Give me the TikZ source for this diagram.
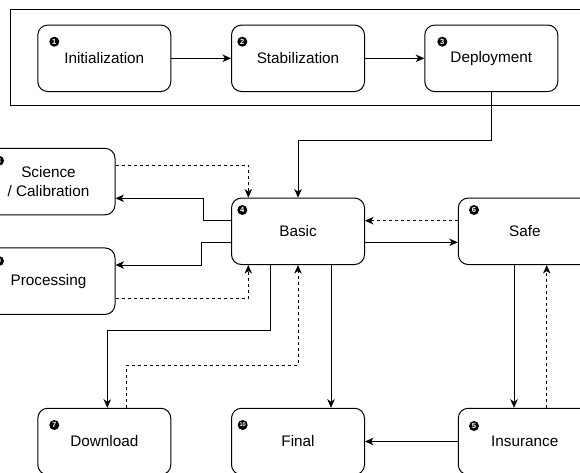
\documentclass[tikz,border=0pt]{standalone}
\usepackage{fontspec}
\setmainfont{Liberation Sans}
\usetikzlibrary{arrows.meta}
\begin{document}
\begin{tikzpicture}[x=1pt,y=-1pt,
  box/.style={draw=black, line width=1pt, rounded corners=10pt, minimum width=133pt, minimum height=66.5pt, inner sep=0pt, align=center, font=\fontsize{15.3}{19}\selectfont, fill=white},
  num/.style={circle, fill=black, inner sep=0pt, minimum size=10pt, text=white, font=\fontsize{7.5}{7.5}\selectfont\bfseries},
  numsmall/.style={num, font=\fontsize{5.5}{5.5}\selectfont\bfseries},
  arr/.style={draw=black, line width=1pt, -{Stealth[length=8.5pt,width=7.5pt,inset=2.5pt]}},
  darr/.style={arr, dash pattern=on 3pt off 3pt},
  frame/.style={draw=black, line width=1pt}]
\useasboundingbox (0,0) rectangle (580,472);
\clip (0,0) rectangle (580,472);

% group frame
\draw[frame] (10.7,9.3) rectangle (640,105);

% boxes
\node[box] (init) at (104.3,58.3) {Initialization};
\node[box] (stab) at (298,58.3) {Stabilization};
\node[box] (deploy) at (491.3,58.3) {Deployment};
\node[box] (basic) at (298,231.3) {Basic};
\node[box] (safe) at (524.8,231.3) {Safe};
\node[box] (science) at (48.5,181.6) {Science\\/ Calibration};
\node[box] (proc) at (48.5,281.2) {Processing};
\node[box] (down) at (104.3,441.5) {Download};
\node[box] (final) at (298,441.5) {Final};
\node[box] (insur) at (524.8,441.5) {Insurance};

% number badges
\node[num] (c1) at (54.3,41.7) {1};
\node[num] (c2) at (242.3,41.7) {2};
\node[num] (c3) at (442.3,41.7) {3};
\node[num] (c4) at (242.3,210) {4};
\node[num] (c6) at (474,210) {6};
\node[num] (c5) at (474,426) {5};
\node[num] (c7) at (54.3,425) {7};
\node[numsmall] (c10) at (242.7,425) {10};
\node[num] (c8) at (-1,160.7) {8};
\node[num] (c9) at (-1,261) {9};

% connectors
\draw[arr] (init.east) -- (stab.west);
\draw[arr] (stab.east) -- (deploy.west);
\draw[arr] (deploy.south) -- (491.3,140) -- (298,140) -- (basic.north);
\draw[arr] ([yshift=10.6pt]basic.west) -- (203.3,220.7) -- (203.3,198.3) -- ([yshift=-16.7pt]science.east);
\draw[darr] ([yshift=16.6pt]science.east) -- (248.3,165) -- ([xshift=-49.7pt]basic.north);
\draw[arr] ([yshift=-11.4pt]basic.west) -- (201.7,242.7) -- (201.7,265) -- ([yshift=16.2pt]proc.east);
\draw[darr] ([yshift=-17pt]proc.east) -- (248.3,298.2) -- ([xshift=-49.7pt]basic.south);
\draw[arr] ([yshift=-11pt]basic.east) -- ([yshift=-11pt]safe.west);
\draw[darr] ([yshift=10.6pt]safe.west) -- ([yshift=10.6pt]basic.east);
\draw[arr] ([xshift=-28pt]basic.south) -- (270,330.7) -- (107.3,330.7) -- ([xshift=3pt]down.north);
\draw[darr] ([xshift=22.4pt]down.north) -- (126.7,365) -- (298,365) -- (basic.south);
\draw[arr] ([xshift=33pt]basic.south) -- ([xshift=33pt]final.north);
\draw[arr] ([xshift=-10.8pt]safe.south) -- ([xshift=-10.8pt]insur.north);
\draw[darr] ([xshift=21.9pt]insur.north) -- ([xshift=21.9pt]safe.south);
\draw[arr] (insur.west) -- (final.east);
\end{tikzpicture}
\end{document}
